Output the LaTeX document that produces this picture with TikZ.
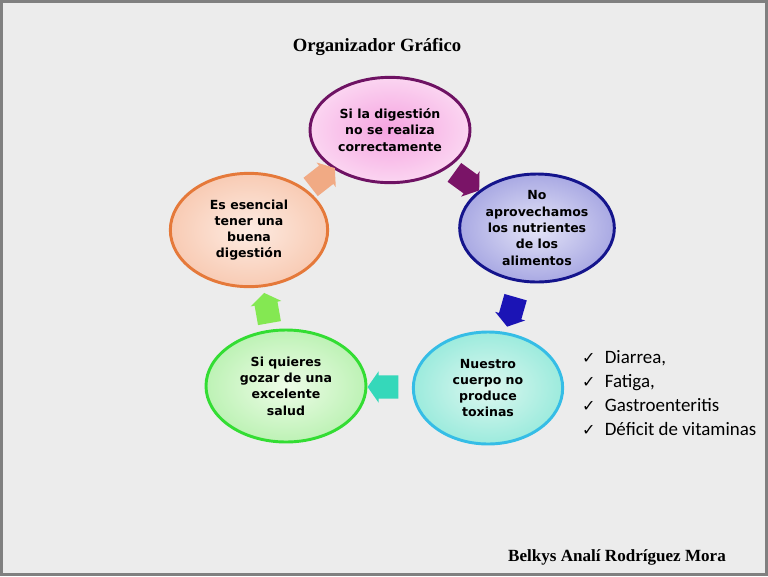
\documentclass[tikz,border=0pt]{standalone}
\usepackage{fontspec}
\setmainfont{Liberation Serif}
\newfontfamily\globofont{DejaVu Sans}
\newfontfamily\listafont{Carlito}
\usetikzlibrary{shapes.geometric, shapes.arrows, positioning, calc}
\definecolor{fondo}{HTML}{ECECEC}
\definecolor{marco}{HTML}{808080}
\definecolor{rosaBorde}{HTML}{6E1263}
\definecolor{rosaIn}{HTML}{F5A3E0}
\definecolor{rosaOut}{HTML}{FBD5F1}
\definecolor{azulBorde}{HTML}{14148C}
\definecolor{azulIn}{HTML}{E4E4F7}
\definecolor{azulOut}{HTML}{A9A9E3}
\definecolor{cianBorde}{HTML}{35BDE6}
\definecolor{cianIn}{HTML}{DDF7EF}
\definecolor{cianOut}{HTML}{9CEBDD}
\definecolor{verdeBorde}{HTML}{33DD33}
\definecolor{verdeIn}{HTML}{EEFCE8}
\definecolor{verdeOut}{HTML}{BDF2B5}
\definecolor{durazBorde}{HTML}{E5793A}
\definecolor{durazIn}{HTML}{FDEBE2}
\definecolor{durazOut}{HTML}{F8CBB4}
\definecolor{flMorado}{HTML}{7A1467}
\definecolor{flAzul}{HTML}{1B14B5}
\definecolor{flTurquesa}{HTML}{35D8BA}
\definecolor{flVerde}{HTML}{84E852}
\definecolor{flDurazno}{HTML}{F1AA84}
\newcommand{\visto}{\makebox[17pt][l]{\globofont\fontsize{12}{12}\selectfont ✓}}

\begin{document}
\begin{tikzpicture}[
    x=0.75pt, y=-0.75pt,
    globo/.style={ellipse, line width=2.2pt, inner sep=0pt,
                  minimum width=118pt, minimum height=83pt, align=center,
                  font=\globofont\bfseries\fontsize{9.4}{12.2}\selectfont},
    flecha/.style={single arrow, inner xsep=0pt, inner ysep=8.5pt,
                   single arrow head extend=3pt, single arrow tip angle=110,
                   minimum height=23pt},
    sintoma/.style={font=\listafont\fontsize{14.2}{18}\selectfont, align=left},
  ]
  \useasboundingbox (0,0) rectangle (768,576);
  \fill[fondo] (0,0) rectangle (768,576);
  \draw[marco, line width=2.25pt] (1.5,1.5) rectangle (766.5,574.5);

  \node[font=\bfseries\fontsize{14}{16}\selectfont] (titulo) at (377,47) {Organizador Gráfico};

  \node[globo, draw=rosaBorde, inner color=rosaIn, outer color=rosaOut,
        minimum width=120pt, minimum height=79pt] (digestion) at (390,130)
        {Si la digestión\\no se realiza\\correctamente};
  \node[globo, draw=azulBorde, inner color=azulIn, outer color=azulOut,
        minimum width=116pt, minimum height=81pt] (aprovechar) at (537,228)
        {No\\aprovechamos\\los nutrientes\\de los\\alimentos};
  \node[globo, draw=cianBorde, inner color=cianIn, outer color=cianOut,
        minimum width=112pt, minimum height=84pt] (cuerpo) at (488,388)
        {Nuestro\\cuerpo no\\produce\\toxinas};
  \node[globo, draw=verdeBorde, inner color=verdeIn, outer color=verdeOut,
        minimum width=120pt, minimum height=84pt] (salud) at (286,386)
        {Si quieres\\gozar de una\\excelente\\salud};
  \node[globo, draw=durazBorde, inner color=durazIn, outer color=durazOut,
        minimum width=118pt, minimum height=85pt] (esencial) at (249,230)
        {Es esencial\\tener una\\buena\\digestión};

  % flechas del ciclo
  \node[flecha, fill=flMorado, rotate=-36] (f1) at ($(digestion)!0.5!(aprovechar)$) {};
  \node[flecha, fill=flAzul, rotate=-106] (f2) at ($(aprovechar)!0.5!(cuerpo)$) {};
  \node[flecha, fill=flTurquesa, rotate=180] (f3) at ($(cuerpo)!0.5!(salud)$) {};
  \node[flecha, fill=flVerde, rotate=100] (f4) at ($(salud)!0.5!(esencial)+(0,4)$) {};
  \node[flecha, fill=flDurazno, rotate=38] (f5) at ($(esencial)!0.5!(digestion)$) {};

  \node[sintoma, right=10pt of cuerpo, yshift=-4pt] (sintomas)
       {\visto Diarrea,\\ \visto Fatiga,\\ \visto Gastroenteritis\\ \visto Déficit de vitaminas};

  \node[font=\bfseries\fontsize{12.8}{15}\selectfont] (autora) at (617,557) {Belkys Analí Rodríguez Mora};
\end{tikzpicture}
\end{document}
